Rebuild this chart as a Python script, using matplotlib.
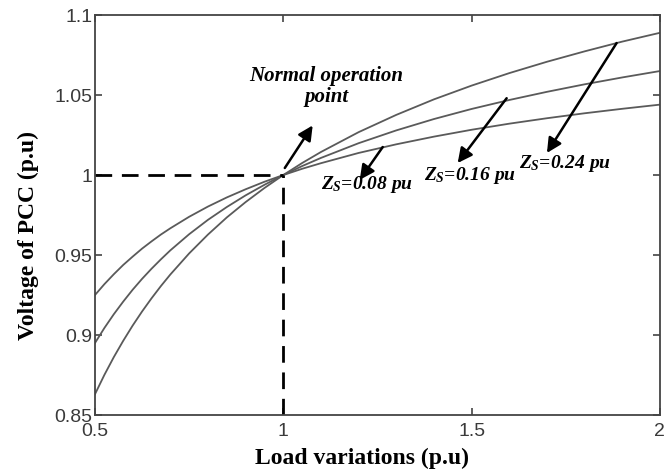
import numpy as np
import matplotlib
matplotlib.use("Agg")
import matplotlib.pyplot as plt

# load (p.u) and PCC voltage for the three source impedances
load = [0.5, 0.525, 0.55, 0.575, 0.6, 0.625, 0.65, 0.675, 0.7, 0.75, 0.8, 0.85, 0.9, 0.95,
        1.0, 1.05, 1.1, 1.2, 1.3, 1.4, 1.5, 1.6, 1.7, 1.8, 1.9, 2.0]
v_zs008 = [0.925, 0.9318, 0.938, 0.9438, 0.949, 0.9540, 0.9585, 0.9628, 0.9667, 0.9739,
           0.9803, 0.9860, 0.9911, 0.9958, 1.0, 1.0039, 1.0074, 1.0138,
           1.0192, 1.0240, 1.0283, 1.0321, 1.0355, 1.0386, 1.0414, 1.0440]
v_zs016 = [0.895, 0.9044, 0.913, 0.9209, 0.9283, 0.9351, 0.9414, 0.9473, 0.9529, 0.9630,
           0.9720, 0.9800, 0.9873, 0.9939, 1.0, 1.0056, 1.0107, 1.0199,
           1.0279, 1.0350, 1.0413, 1.0469, 1.0520, 1.0567, 1.0610, 1.0650]
v_zs024 = [0.863, 0.8751, 0.8862, 0.8964, 0.9059, 0.9147, 0.9229, 0.9306, 0.9378, 0.9510,
           0.9628, 0.9735, 0.9831, 0.9919, 1.0, 1.0075, 1.0144, 1.0268,
           1.0376, 1.0473, 1.0559, 1.0637, 1.0708, 1.0773, 1.0834, 1.0889]

x_ticks = [0.5, 1, 1.5, 2]
x_labels = ["0.5", "1", "1.5", "2"]
y_ticks = [0.85, 0.9, 0.95, 1.0, 1.05, 1.1]
y_labels = ["0.85", "0.9", "0.95", "1", "1.05", "1.1"]

plt.rcParams["mathtext.fontset"] = "custom"
plt.rcParams["mathtext.it"] = "Liberation Serif:italic:bold"
plt.rcParams["mathtext.rm"] = "Liberation Serif:italic:bold"

fig = plt.figure(figsize=(6.67, 4.70), dpi=100)
ax = fig.add_axes([0.1424, 0.117, 0.847, 0.851])

for v in (v_zs008, v_zs016, v_zs024):
    ax.plot(load, v, color="#5a5a5a", lw=1.3)

# nominal operating point guides
ax.plot([0.5, 1], [1, 1], color="k", lw=2, ls=(0, (6, 3.5)))
ax.plot([1, 1], [0.85, 1], color="k", lw=2, ls=(0, (6, 3.5)))

ax.set_xlim(0.5, 2)
ax.set_ylim(0.85, 1.1)
ax.set_xticks(x_ticks, x_labels)
ax.set_yticks(y_ticks, y_labels)
ax.tick_params(direction="in", top=True, right=True, length=5, width=1.2,
               color="#444444", labelcolor="#3a3a3a", labelsize=14)
ax.tick_params(axis="x", pad=6)
ax.tick_params(axis="y", pad=2)
for lbl in ax.get_xticklabels() + ax.get_yticklabels():
    lbl.set_family("Liberation Sans")
for s in ax.spines.values():
    s.set_color("#444444")
    s.set_linewidth(1.3)

ax.set_xlabel("Load variations (p.u)", family="Liberation Serif", fontweight="bold",
              fontsize=17)
ax.set_ylabel("Voltage of PCC (p.u)", family="Liberation Serif", fontweight="bold",
              fontsize=17)
ax.xaxis.set_label_coords(0.473, -0.1075)
ax.xaxis.label.set_va("center")
ax.yaxis.set_label_coords(-0.118, 0.45)
ax.yaxis.label.set_va("center")

arrow = dict(arrowstyle="-|>", color="k", lw=1.8, mutation_scale=22, shrinkA=0, shrinkB=0)
txt = dict(family="Liberation Serif", fontweight="bold", style="italic",
           ha="center", va="center")

ax.annotate("", xy=(1.078, 1.031), xytext=(1.004, 1.0044), arrowprops=arrow)
ax.text(1.115, 1.0555, "Normal operation\npoint", linespacing=1.05, fontsize=15, **txt)

ax.annotate("", xy=(1.203, 0.997), xytext=(1.264, 1.0175), arrowprops=arrow)
ax.text(1.222, 0.994, "$Z_S$=0.08 pu", fontsize=14, **txt)

ax.annotate("", xy=(1.463, 1.0075), xytext=(1.593, 1.048), arrowprops=arrow)
ax.text(1.495, 1.0, "$Z_S$=0.16 pu", fontsize=14, **txt)

ax.annotate("", xy=(1.70, 1.0138), xytext=(1.885, 1.0825), arrowprops=arrow)
ax.text(1.748, 1.0075, "$Z_S$=0.24 pu", fontsize=14, **txt)

fig.savefig("out.png", dpi=100)
